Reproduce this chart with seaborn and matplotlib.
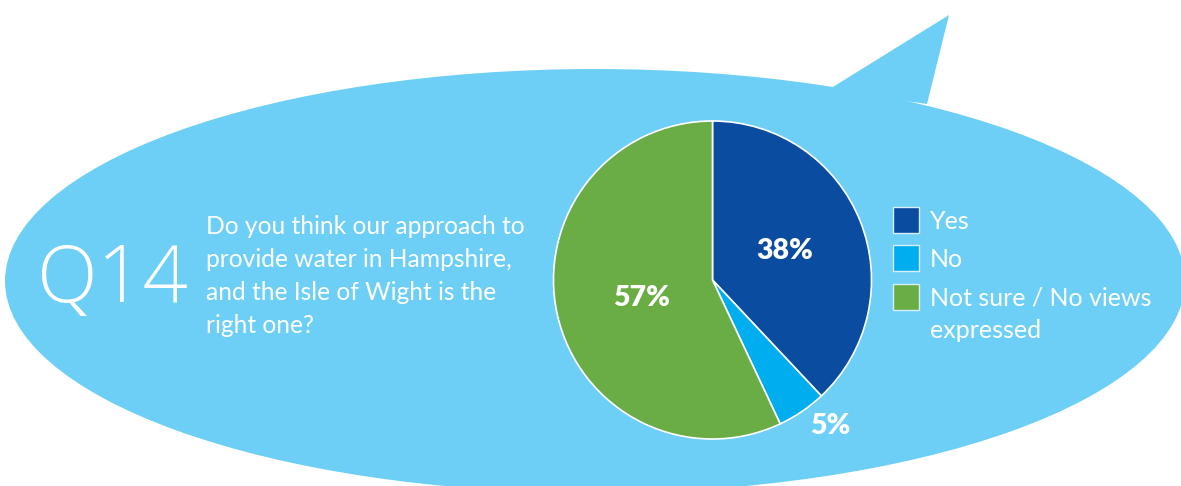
import numpy as np
import matplotlib
matplotlib.use("Agg")
import matplotlib.pyplot as plt
from matplotlib.patches import Ellipse, Polygon, Rectangle
import seaborn as sns

# Survey answers for Q14
categories = ["Yes", "No", "Not sure / No views\nexpressed"]
shares = [38, 5, 57]
pct_labels = ["38%", "5%", "57%"]
question_no = "Q14"
question = ("Do you think our approach to\n"
            "provide water in Hampshire,\n"
            "and the Isle of Wight is the\n"
            "right one?")

sns.set_theme(style="white")
plt.rcParams["font.family"] = ["Lato", "DejaVu Sans"]

slice_colors = ["#0A4C9F", "#00AEEF", "#6AAD45"]
bubble_color = "#6DCFF6"

W, H = 1181, 486
fig = plt.figure(figsize=(W / 100, H / 100), dpi=100)
ax = fig.add_axes([0, 0, 1, 1])


def Y(y):
    """Screen row (from top) to data y (from bottom)."""
    return H - y


# speech bubble: ellipse plus a pointed tail at the top right
ax.add_patch(Ellipse((595, Y(281)), 2 * 590, 2 * 212, facecolor=bubble_color,
                     edgecolor="none", zorder=1))
ax.add_patch(Polygon([(828, Y(90)), (949, Y(15)), (927, Y(104))], closed=True,
                     facecolor=bubble_color, edgecolor="none", zorder=1))

# pie, clockwise from twelve o'clock
center = (712.5, Y(280))
radius = 159
wedges, _ = ax.pie(shares, colors=slice_colors, startangle=90, counterclock=False,
                   center=center, radius=radius,
                   wedgeprops=dict(edgecolor="white", linewidth=1.2))
for w in wedges:
    w.set_zorder(3)

# value labels placed along each wedge's mid angle
label_dist = [0.49, 1.18, 0.46]
label_turn = [0.0, 4.5, 2.0]
for w, txt, d, t in zip(wedges, pct_labels, label_dist, label_turn):
    ang = np.deg2rad((w.theta1 + w.theta2) / 2 + t)
    ax.text(center[0] + d * radius * np.cos(ang),
            center[1] + d * radius * np.sin(ang),
            txt, color="white", fontsize=20.5, fontweight="heavy",
            ha="center", va="center", zorder=4)

# question number and text
ax.text(112, Y(281), question_no, color="white", fontsize=57,
        family=["Open Sans", "DejaVu Sans"], fontweight=300,
        ha="center", va="center", zorder=4)
ax.text(206, Y(215), question, color="white", fontsize=17.7, linespacing=1.52,
        ha="left", va="top", zorder=4)

# legend
box = 26
rows = [Y(207), Y(245), Y(284)]
for top, col, lab in zip(rows, slice_colors, categories):
    ax.add_patch(Rectangle((893, top - box), box, box, facecolor=col,
                           edgecolor="#D8EEF8", linewidth=1.0, zorder=4))
    ax.text(930, top - 3, lab, color="white", fontsize=18, linespacing=1.45,
            ha="left", va="top", zorder=4)

ax.set_xlim(0, W)
ax.set_ylim(0, H)
ax.set_aspect("auto")
ax.axis("off")

fig.savefig("out.png", dpi=100, facecolor="white")
